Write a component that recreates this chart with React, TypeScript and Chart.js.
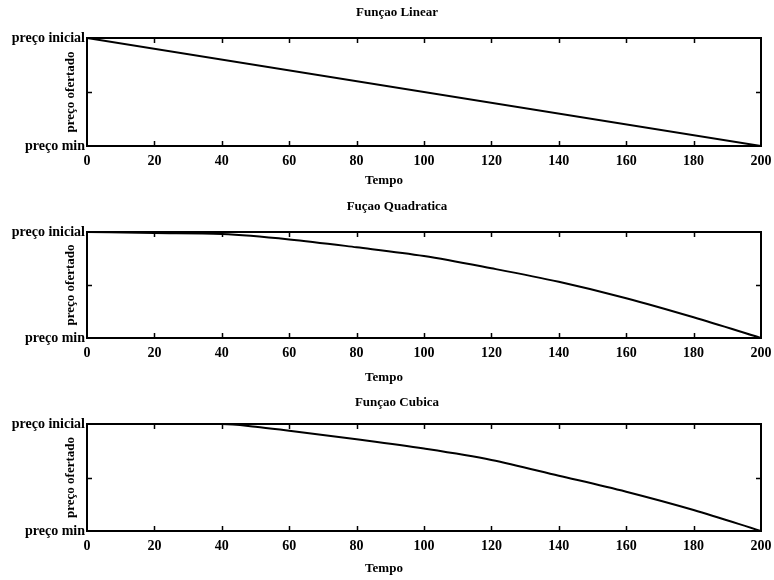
import React, { useEffect, useRef } from "react";
import { Chart, registerables } from "chart.js";

Chart.register(...registerables);

// ---- data ----
const tempoLinear = [0, 200];
const precoLinear = [1, 0];

const tempoQuad = [0, 20, 40, 60, 80, 100, 120, 140, 160, 180, 200];
const precoQuad = [1, 0.99, 0.98, 0.93, 0.856, 0.774, 0.658, 0.53, 0.375, 0.195, 0];

const tempoCubic = [0, 20, 40, 50, 60, 80, 100, 120, 140, 160, 180, 200];
const precoCubic = [1, 1, 1, 0.975, 0.937, 0.857, 0.77, 0.664, 0.517, 0.367, 0.196, 0];

const xTickStep = 20;
const yTickValues = [0, 0.5, 1];
const yTickLabels = ["preço min", "", "preço inicial"];
const xAxisTitle = "Tempo";
const yAxisTitle = "preço ofertado";

const FONT = "'Liberation Serif', 'Times New Roman', serif";

const boxPlugin = {
  id: "boxTicks",
  afterDatasetsDraw(chart: any) {
    const { ctx, chartArea } = chart;
    const { left, right, top, bottom } = chartArea;
    const x = chart.scales.x;
    const y = chart.scales.y;
    ctx.save();
    ctx.strokeStyle = "#000";
    ctx.lineWidth = 1.5;
    const tl = 5;
    ctx.beginPath();
    x.ticks.forEach((t: any) => {
      const px = Math.round(x.getPixelForValue(t.value)) + 0.5;
      if (px <= left + 2 || px >= right - 2) return;
      ctx.moveTo(px, bottom);
      ctx.lineTo(px, bottom - tl);
      ctx.moveTo(px, top);
      ctx.lineTo(px, top + tl);
    });
    y.ticks.forEach((t: any) => {
      const py = Math.round(y.getPixelForValue(t.value)) + 0.5;
      if (py <= top + 2 || py >= bottom - 2) return;
      ctx.moveTo(left, py);
      ctx.lineTo(left + tl, py);
      ctx.moveTo(right, py);
      ctx.lineTo(right - tl, py);
    });
    ctx.stroke();
    ctx.lineWidth = 2;
    ctx.strokeRect(left, top, right - left, bottom - top);

    // panel title and x-axis title
    const o = chart.options.plugins.panelText || {};
    ctx.fillStyle = "#000";
    ctx.font = `bold 13px ${FONT}`;
    ctx.textAlign = "center";
    ctx.textBaseline = "middle";
    const cx = (left + right) / 2;
    if (o.title) ctx.fillText(o.title, cx + o.titleDx, o.titleY);
    ctx.fillText(xAxisTitle, cx + o.xTitleDx, o.xTitleY);
    ctx.restore();
  },
};

type PanelProps = {
  title: string;
  xs: number[];
  ys: number[];
  top: number;
  height: number;
  plotTop: number;
  titleY: number;
  xAxisHeight: number;
  xTitleY: number;
};

function Panel(p: PanelProps) {
  const ref = useRef<HTMLCanvasElement>(null);
  useEffect(() => {
    if (!ref.current) return;
    const chart = new Chart(ref.current, {
      type: "line",
      data: {
        datasets: [
          {
            data: p.xs.map((x, i) => ({ x, y: p.ys[i] })),
            borderColor: "#000",
            borderWidth: 2,
            pointRadius: 0,
            cubicInterpolationMode: "monotone",
            fill: false,
          },
        ],
      },
      options: {
        animation: false,
        responsive: false,
        devicePixelRatio: 1,
        layout: { padding: { left: 0, right: 13, top: p.plotTop, bottom: 0 } },
        plugins: {
          legend: { display: false },
          tooltip: { enabled: false },
          title: { display: false },
          panelText: {
            title: p.title,
            titleDx: -27,
            titleY: p.titleY,
            xTitleDx: -40,
            xTitleY: p.xTitleY,
          },
        },
        scales: {
          x: {
            type: "linear",
            min: 0,
            max: 200,
            grid: { display: false, drawTicks: false },
            border: { display: false },
            ticks: {
              stepSize: xTickStep,
              color: "#000",
              padding: 7,
              maxRotation: 0,
              font: { family: FONT, size: 14, weight: "bold" },
            },
            title: { display: false },
            afterFit: (s: any) => {
              s.height = p.xAxisHeight;
              s.paddingLeft = 0;
              s.paddingRight = 0;
            },
          },
          y: {
            type: "linear",
            min: 0,
            max: 1,
            grid: { display: false, drawTicks: false },
            border: { display: false },
            afterBuildTicks: (s: any) => {
              s.ticks = yTickValues.map((v) => ({ value: v }));
            },
            ticks: {
              color: "#000",
              padding: 2,
              font: { family: FONT, size: 14, weight: "bold" },
              callback: (v: any) => {
                const i = yTickValues.indexOf(Number(v));
                return i >= 0 ? yTickLabels[i] : "";
              },
            },
            title: {
              display: true,
              text: yAxisTitle,
              color: "#000",
              font: { family: FONT, size: 13, weight: "bold" },
              padding: { top: 63, bottom: 0 },
            },
            afterFit: (s: any) => {
              s.width = 87;
              s.paddingTop = 0;
              s.paddingBottom = 0;
            },
          },
        },
      },
      plugins: [boxPlugin],
    } as any);
    return () => chart.destroy();
  }, []);
  return (
    <canvas
      ref={ref}
      width={774}
      height={p.height}
      style={{ position: "absolute", left: 0, top: p.top, width: 774, height: p.height }}
    />
  );
}

export default function App() {
  return (
    <div
      style={{
        position: "fixed",
        left: 0,
        top: 0,
        width: 774,
        height: 580,
        background: "#fff",
      }}
    >
      <Panel
        title="Funçao Linear"
        xs={tempoLinear}
        ys={precoLinear}
        top={0}
        height={193}
        plotTop={38}
        titleY={13}
        xAxisHeight={47}
        xTitleY={181}
      />
      <Panel
        title="Fuçao Quadratica"
        xs={tempoQuad}
        ys={precoQuad}
        top={193}
        height={197}
        plotTop={39}
        titleY={14}
        xAxisHeight={52}
        xTitleY={185}
      />
      <Panel
        title="Funçao Cubica"
        xs={tempoCubic}
        ys={precoCubic}
        top={390}
        height={190}
        plotTop={34}
        titleY={13}
        xAxisHeight={49}
        xTitleY={179}
      />
    </div>
  );
}
